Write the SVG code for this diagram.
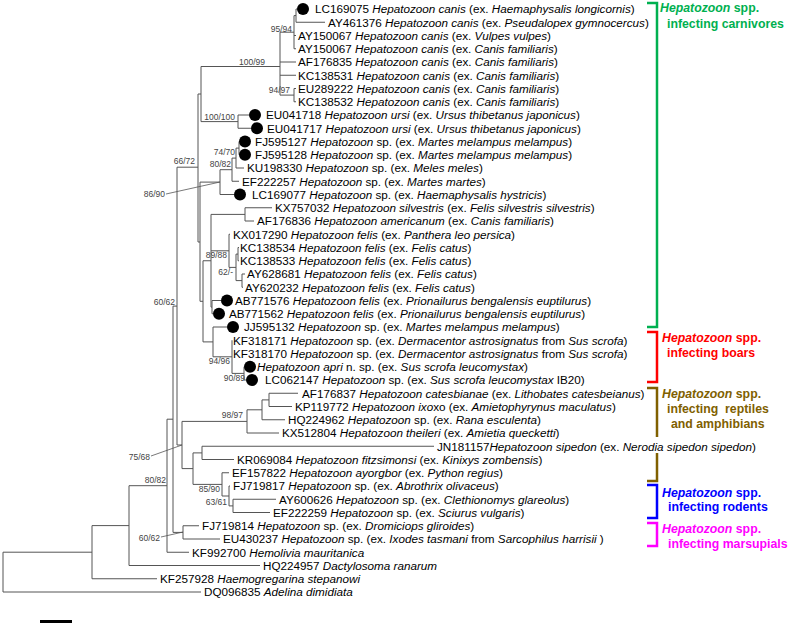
<svg xmlns="http://www.w3.org/2000/svg" width="790" height="625" viewBox="0 0 790 625">
<style>
.t{font-family:"Liberation Sans",Arial,sans-serif;font-size:11.7px;fill:#000}
.i{font-style:italic}
.b{font-family:"Liberation Sans",Arial,sans-serif;font-size:8.5px;fill:#444;text-anchor:end}
.e{fill:none;stroke:#555;stroke-width:1}
.ld{fill:none;stroke:#555;stroke-width:0.8}
.br{fill:none;stroke-width:2.5}
.g{font-family:"Liberation Sans",Arial,sans-serif;font-size:12.3px;font-weight:bold}
</style>
<rect width="790" height="625" fill="#fff"/>
<g id="connectors">
<path class="e" d="M3 552.2V592M3 552.2H92M3 592H201
M92 525.6V578.75M92 525.6H129M92 578.75H157
M129 485.7V565.5M129 485.7H167M129 565.5H260
M167 419.2V552.25M167 419.2H173M167 552.25H189
M173 306.1V532.4M173 306.1H177M173 532.4H183
M183 525.75V539M183 525.75H199M183 539H220
M177 167.2V445M177 167.2H198M177 445H182
M182 421.4V468.6M182 421.4H247M182 468.6H193
M247 409.8V433M247 409.8H262M247 433H279
M262 399.9V419.75M262 399.9H269M262 419.75H285
M269 393.25V406.5M269 393.25H298M269 406.5H292
M193 452.9V484.4M193 452.9H202M193 484.4H222
M202 446.25V459.5M202 446.25H434M202 459.5H234
M222 472.75V496M222 472.75H229M222 496H229
M229 486V505.9M229 486H230M229 505.9H233
M233 499.25V512.5M233 499.25H276M233 512.5H270
M198 94V242M198 94H201M198 242H200
M201 66.5V121.6M201 66.5H280M201 121.6H238
M280 32.2V95.1M280 32.2H294M280 62H296M280 75.25H296M280 95.1H294
M294 15.6V48.75M294 15.6H296M294 35.5H296M294 48.75H296
M296 9V22.25M296 9H297M296 22.25H325
M294 88.5V101.75M294 88.5H296M294 101.75H296
M238 115V128.25M238 115H249M238 128.25H251
M200 182.1V301.3M200 182.1H220M200 301.3H203
M220 169.7V194.5M220 169.7H232M220 194.5H234
M232 158.1V181.25M232 158.1H236M232 181.25H239
M236 148.1V168M236 148.1H239M236 168H244
M239 141.5V154.75
M203 260.75V341.9M203 260.75H211M203 341.9H213
M211 214.4V307.1M211 214.4H245M211 250.8H229M211 307.1H212
M245 207.75V221M245 207.75H272M245 221H254
M229 234.25V267.4M229 234.25H230M229 267.4H236
M236 254.1V280.6M236 254.1H238M236 280.6H242
M238 247.5V260.75M238 247.5H239M238 260.75H239
M242 274V287.25M242 274H245M242 287.25H243
M212 300.5V313.75M212 300.5H221M212 313.75H213
M213 327V356.8M213 327H227M213 356.8H232
M232 340.25V373.4M232 373.4H244
M244 366.75V380M244 380H246"/>
<path class="ld" d="M166 194L220 182M151 456L182 445M161 537L183 532"/>
<path d="M40 621.5H72" stroke="#000" stroke-width="3"/>
</g>
<g id="dots" fill="#000">
<circle cx="303" cy="9" r="6"/>
<circle cx="255" cy="115" r="6"/>
<circle cx="257" cy="128.25" r="6"/>
<circle cx="245" cy="141.5" r="6"/>
<circle cx="245" cy="154.75" r="6"/>
<circle cx="240" cy="194.5" r="6"/>
<circle cx="227" cy="300.5" r="6"/>
<circle cx="219" cy="313.75" r="6"/>
<circle cx="233" cy="327" r="6"/>
<circle cx="250" cy="366.75" r="6"/>
<circle cx="252" cy="380" r="6"/>
</g>
<g id="bootstrap">
<text class="b" x="292" y="32">95/94</text>
<text class="b" x="265" y="65">100/99</text>
<text class="b" x="290" y="93">94/97</text>
<text class="b" x="235" y="120">100/100</text>
<text class="b" x="235" y="155">74/70</text>
<text class="b" x="231" y="167">80/82</text>
<text class="b" x="195" y="164">66/72</text>
<text class="b" x="165" y="197">86/90</text>
<text class="b" x="227" y="258">89/88</text>
<text class="b" x="233" y="275">62/-</text>
<text class="b" x="175" y="305">60/62</text>
<text class="b" x="230" y="364">94/96</text>
<text class="b" x="245" y="381">90/89</text>
<text class="b" x="243" y="418">98/97</text>
<text class="b" x="150" y="460">75/68</text>
<text class="b" x="166" y="483">80/82</text>
<text class="b" x="220" y="492">85/90</text>
<text class="b" x="227" y="505">63/61</text>
<text class="b" x="160" y="541">60/62</text>
</g>
<g id="leaves">
<text id="n1" class="t" x="315" y="13.2">LC169075 <tspan class="i">Hepatozoon canis</tspan> (ex. <tspan class="i">Haemaphysalis longicornis</tspan>)</text>
<text id="n2" class="t" x="328" y="26.5">AY461376 <tspan class="i">Hepatozoon canis</tspan> (ex. <tspan class="i">Pseudalopex gymnocercus</tspan>)</text>
<text id="n3" class="t" x="298" y="39.7">AY150067 <tspan class="i">Hepatozoon canis</tspan> (ex. <tspan class="i">Vulpes vulpes</tspan>)</text>
<text id="n4" class="t" x="298" y="53">AY150067 <tspan class="i">Hepatozoon canis</tspan> (ex. <tspan class="i">Canis familiaris</tspan>)</text>
<text id="n5" class="t" x="298" y="66.2">AF176835 <tspan class="i">Hepatozoon canis</tspan> (ex. <tspan class="i">Canis familiaris</tspan>)</text>
<text id="n6" class="t" x="298" y="79.5">KC138531 <tspan class="i">Hepatozoon canis</tspan> (ex. <tspan class="i">Canis familiaris</tspan>)</text>
<text id="n7" class="t" x="298" y="92.7">EU289222 <tspan class="i">Hepatozoon canis</tspan> (ex. <tspan class="i">Canis familiaris</tspan>)</text>
<text id="n8" class="t" x="298" y="106">KC138532 <tspan class="i">Hepatozoon canis</tspan> (ex. <tspan class="i">Canis familiaris</tspan>)</text>
<text id="n9" class="t" x="266" y="119.2">EU041718 <tspan class="i">Hepatozoon ursi</tspan> (ex. <tspan class="i">Ursus thibetanus japonicus</tspan>)</text>
<text id="n10" class="t" x="267" y="132.5">EU041717 <tspan class="i">Hepatozoon ursi</tspan> (ex. <tspan class="i">Ursus thibetanus japonicus</tspan>)</text>
<text id="n11" class="t" x="255" y="145.7">FJ595127 <tspan class="i">Hepatozoon</tspan> sp. (ex. <tspan class="i">Martes melampus melampus</tspan>)</text>
<text id="n12" class="t" x="255" y="159">FJ595128 <tspan class="i">Hepatozoon</tspan> sp. (ex. <tspan class="i">Martes melampus melampus</tspan>)</text>
<text id="n13" class="t" x="247" y="172.2">KU198330 <tspan class="i">Hepatozoon</tspan> sp. (ex. <tspan class="i">Meles meles</tspan>)</text>
<text id="n14" class="t" x="242" y="185.5">EF222257 <tspan class="i">Hepatozoon</tspan> sp. (ex. <tspan class="i">Martes martes</tspan>)</text>
<text id="n15" class="t" x="252" y="198.7">LC169077 <tspan class="i">Hepatozoon</tspan> sp. (ex. <tspan class="i">Haemaphysalis hystricis</tspan>)</text>
<text id="n16" class="t" x="275" y="212">KX757032 <tspan class="i">Hepatozoon silvestris</tspan> (ex. <tspan class="i">Felis silvestris silvestris</tspan>)</text>
<text id="n17" class="t" x="257" y="225.2">AF176836 <tspan class="i">Hepatozoon americanum</tspan> (ex. <tspan class="i">Canis familiaris</tspan>)</text>
<text id="n18" class="t" x="233" y="238.5">KX017290 <tspan class="i">Hepatozoon felis</tspan> (ex. <tspan class="i">Panthera leo persica</tspan>)</text>
<text id="n19" class="t" x="240" y="251.7">KC138534 <tspan class="i">Hepatozoon felis</tspan> (ex. <tspan class="i">Felis catus</tspan>)</text>
<text id="n20" class="t" x="240" y="265">KC138533 <tspan class="i">Hepatozoon felis</tspan> (ex. <tspan class="i">Felis catus</tspan>)</text>
<text id="n21" class="t" x="247" y="278.2">AY628681 <tspan class="i">Hepatozoon felis</tspan> (ex. <tspan class="i">Felis catus</tspan>)</text>
<text id="n22" class="t" x="245" y="291.5">AY620232 <tspan class="i">Hepatozoon felis</tspan> (ex. <tspan class="i">Felis catus</tspan>)</text>
<text id="n23" class="t" x="235" y="304.7">AB771576 <tspan class="i">Hepatozoon felis</tspan> (ex. <tspan class="i">Prionailurus bengalensis euptilurus</tspan>)</text>
<text id="n24" class="t" x="229" y="318">AB771562 <tspan class="i">Hepatozoon felis</tspan> (ex. <tspan class="i">Prionailurus bengalensis euptilurus</tspan>)</text>
<text id="n25" class="t" x="244" y="331.2">JJ595132 <tspan class="i">Hepatozoon</tspan> sp. (ex. <tspan class="i">Martes melampus melampus</tspan>)</text>
<text id="n26" class="t" x="233" y="344.5">KF318171 <tspan class="i">Hepatozoon</tspan> sp. (ex. <tspan class="i">Dermacentor astrosignatus</tspan> from <tspan class="i">Sus scrofa</tspan>)</text>
<text id="n27" class="t" x="233" y="357.7">KF318170 <tspan class="i">Hepatozoon</tspan> sp. (ex. <tspan class="i">Dermacentor astrosignatus</tspan> from <tspan class="i">Sus scrofa</tspan>)</text>
<text id="n28" class="t" x="257" y="371"><tspan class="i">Hepatozoon apri</tspan> n. sp. (ex. <tspan class="i">Sus scrofa leucomystax</tspan>)</text>
<text id="n29" class="t" x="265" y="384.2">LC062147 <tspan class="i">Hepatozoon</tspan> sp. (ex. <tspan class="i">Sus scrofa leucomystax</tspan> IB20)</text>
<text id="n30" class="t" x="302" y="397.5">AF176837 <tspan class="i">Hepatozoon catesbianae</tspan> (ex. <tspan class="i">Lithobates catesbeianus</tspan>)</text>
<text id="n31" class="t" x="295" y="410.7">KP119772 <tspan class="i">Hepatozoon ixo</tspan>xo (ex. <tspan class="i">Amietophyrynus maculatus</tspan>)</text>
<text id="n32" class="t" x="288" y="424">HQ224962 <tspan class="i">Hepatozoon</tspan> sp. (ex. <tspan class="i">Rana esculenta</tspan>)</text>
<text id="n33" class="t" x="282" y="437.2">KX512804 <tspan class="i">Hepatozoon theileri</tspan> (ex. <tspan class="i">Amietia quecketti</tspan>)</text>
<text id="n34" class="t" x="437" y="450.5">JN181157<tspan class="i">Hepatozoon sipedon</tspan> (ex. <tspan class="i">Nerodia sipedon sipedon</tspan>)</text>
<text id="n35" class="t" x="237" y="463.7">KR069084 <tspan class="i">Hepatozoon fitzsimonsi</tspan> (ex. <tspan class="i">Kinixys zombensis</tspan>)</text>
<text id="n36" class="t" x="232" y="477">EF157822 <tspan class="i">Hepatozoon ayorgbor</tspan> (ex. <tspan class="i">Python regius</tspan>)</text>
<text id="n37" class="t" x="233" y="490.2">FJ719817 <tspan class="i">Hepatozoon</tspan> sp. (ex. <tspan class="i">Abrothrix olivaceus</tspan>)</text>
<text id="n38" class="t" x="279" y="503.5">AY600626 <tspan class="i">Hepatozoon</tspan> sp. (ex. <tspan class="i">Clethionomys glareolus</tspan>)</text>
<text id="n39" class="t" x="273" y="516.7">EF222259 <tspan class="i">Hepatozoon</tspan> sp. (ex. <tspan class="i">Sciurus vulgaris</tspan>)</text>
<text id="n40" class="t" x="202" y="530">FJ719814 <tspan class="i">Hepatozoon</tspan> sp. (ex. <tspan class="i">Dromiciops gliroides</tspan>)</text>
<text id="n41" class="t" x="223" y="543.2">EU430237 <tspan class="i">Hepatozoon</tspan> sp. (ex. <tspan class="i">Ixodes tasmani</tspan> from <tspan class="i">Sarcophilus harrisii</tspan> )</text>
<text id="n42" class="t" x="192" y="556.5">KF992700 <tspan class="i">Hemolivia mauritanica</tspan></text>
<text id="n43" class="t" x="263" y="569.7">HQ224957 <tspan class="i">Dactylosoma ranarum</tspan></text>
<text id="n44" class="t" x="160" y="583">KF257928 <tspan class="i">Haemogregarina stepanowi</tspan></text>
<text id="n45" class="t" x="204" y="596.2">DQ096835 <tspan class="i">Adelina dimidiata</tspan></text>
</g>
<g id="groups">
<g id="carnivores">
<path class="br" stroke="#00b050" d="M647 3H657V327H647"/>
<text class="g" fill="#00b050" x="660" y="11.5"><tspan class="i">Hepatozoon</tspan> spp.</text>
<text class="g" fill="#00b050" x="667" y="28">infecting carnivores</text>
</g>
<g id="boars">
<path class="br" stroke="#ff0000" d="M647 332H657V382H647"/>
<text class="g" fill="#ff0000" x="662" y="342"><tspan class="i">Hepatozoon</tspan> spp.</text>
<text class="g" fill="#ff0000" x="667" y="357">infecting boars</text>
</g>
<g id="reptiles">
<path class="br" stroke="#806000" d="M647 388H657V437M657 453V481H647"/>
<text class="g" fill="#806000" x="662" y="398"><tspan class="i">Hepatozoon</tspan> spp.</text>
<text class="g" fill="#806000" x="667" y="413" style="white-space:pre">infecting  reptiles</text>
<text class="g" fill="#806000" x="671" y="428">and amphibians</text>
</g>
<g id="rodents">
<path class="br" stroke="#0000ff" d="M647 485H657V518H647"/>
<text class="g" fill="#0000ff" x="662" y="497"><tspan class="i">Hepatozoon</tspan> spp.</text>
<text class="g" fill="#0000ff" x="668" y="511">infecting rodents</text>
</g>
<g id="marsupials">
<path class="br" stroke="#ff00ff" d="M647 523H657V546H647"/>
<text class="g" fill="#ff00ff" x="662" y="533"><tspan class="i">Hepatozoon</tspan> spp.</text>
<text class="g" fill="#ff00ff" x="668" y="548">infecting marsupials</text>
</g>
</g>
</svg>
